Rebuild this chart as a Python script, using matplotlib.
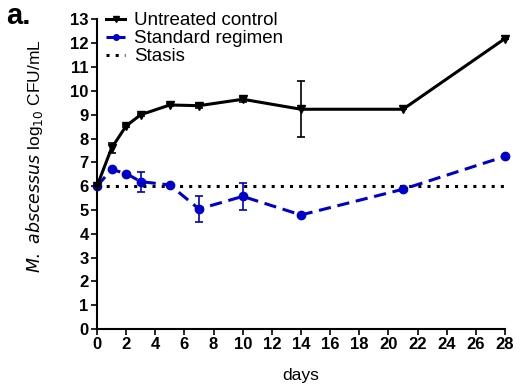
import matplotlib
matplotlib.use('Agg')
import matplotlib.pyplot as plt
from matplotlib.lines import Line2D

# data
days_ctrl = [0, 1, 2, 3, 5, 7, 10, 14, 21, 28]
ctrl = [6.0, 7.6, 8.53, 9.0, 9.41, 9.38, 9.65, 9.23, 9.23, 12.2]
ctrl_err = [0.0, 0.2, 0.05, 0.05, 0.05, 0.1, 0.1, 1.17, 0.0, 0.0]

days_std = [0, 1, 2, 3, 5, 7, 10, 14, 21, 28]
std = [6.0, 6.7, 6.53, 6.19, 6.05, 5.04, 5.57, 4.79, 5.87, 7.25]
std_err = [0.0, 0.0, 0.0, 0.42, 0.0, 0.55, 0.56, 0.0, 0.0, 0.0]

stasis = 6.0
x_ticks = list(range(0, 29, 2))
y_ticks = list(range(0, 14))

plt.rcParams['font.family'] = ['Liberation Sans', 'DejaVu Sans']

blue = '#0000c8'
dash = (0, (4, 2.2))
dots = (0, (1, 2))

fig = plt.figure(figsize=(5.28, 3.87), dpi=100)
ax = fig.add_axes([97 / 528, 1 - 329 / 387, (505 - 97) / 528, (329 - 19.5) / 387])

ax.errorbar(days_ctrl, ctrl, yerr=ctrl_err, color='black', lw=2.2, marker='v',
            ms=6, capsize=3, elinewidth=1.2, capthick=1.2, clip_on=False, zorder=4)
ax.errorbar(days_std, std, yerr=std_err, color=blue, lw=2.2, ls=dash,
            marker='o', ms=6, capsize=3, elinewidth=1.2, capthick=1.2,
            clip_on=False, zorder=3)
ax.axhline(stasis, color='black', lw=2.2, ls=dots, zorder=2)

ax.set_xlim(0, 28)
ax.set_ylim(0, 13)
ax.set_xticks(x_ticks)
ax.set_yticks(y_ticks)
for s in ['top', 'right']:
    ax.spines[s].set_visible(False)
for s in ['left', 'bottom']:
    ax.spines[s].set_linewidth(1.5)
ax.tick_params(direction='out', length=4, width=1.2, pad=2)
for lab in ax.get_xticklabels() + ax.get_yticklabels():
    lab.set_fontweight('bold')
    lab.set_fontsize(12)

ax.set_xlabel('days', fontsize=12.5)
ax.xaxis.set_label_coords(0.5, -0.127)
ax.set_ylabel(r'$\it{M.\ abscessus}$ log$_{10}$ CFU/mL', fontsize=12.5)
ax.yaxis.set_label_coords(-0.128, 0.56)

handles = [
    Line2D([], [], color='black', lw=2.2, marker='v', ms=4),
    Line2D([], [], color=blue, lw=2.2, ls=(0, (2.5, 1.5)), marker='o', ms=4),
    Line2D([], [], color='black', lw=2.2, ls=dots),
]
labels = ['Untreated control', 'Standard regimen', 'Stasis']
ax.legend(handles, labels, loc='upper left', bbox_to_anchor=(-0.005, 1.06),
          frameon=False, fontsize=13.5, handlelength=1.0, handletextpad=0.5,
          labelspacing=0.05, borderaxespad=0.2)

fig.text(0.012, 0.995, 'a.', fontsize=21, fontweight='bold', va='top', ha='left')

fig.savefig('out.png', dpi=100)
